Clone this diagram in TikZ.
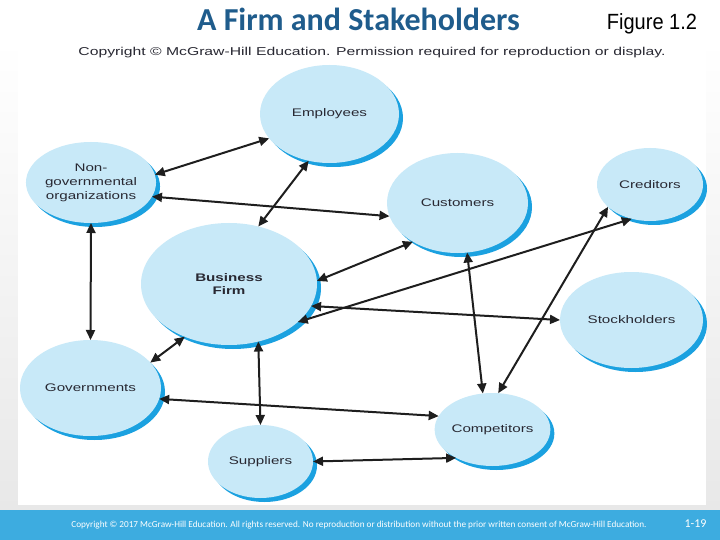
\documentclass[tikz,border=0pt]{standalone}
\usepackage{fontspec}
\setmainfont{Liberation Sans}
\newfontfamily\titlefont{Carlito}
\newfontfamily\figlabel[FakeStretch=0.91]{Liberation Sans}
\newfontfamily\plate[FakeStretch=1.38]{Liberation Sans}
\usepackage{xcolor}
\usepackage{tikz}
\usetikzlibrary{arrows.meta, shapes.geometric, shadows}

\definecolor{titleblue}{RGB}{31,92,140}
\definecolor{bubble}{RGB}{200,233,248}
\definecolor{rim}{RGB}{27,161,224}
\definecolor{ink}{RGB}{40,40,50}
\definecolor{barblue}{RGB}{61,172,224}
\definecolor{arrowink}{RGB}{30,30,30}

\begin{document}
\begin{tikzpicture}[
  x=1pt, y=-1pt,
  party/.style={ellipse, fill=bubble, draw=none, inner sep=0pt, outer sep=0pt, align=center,
    drop shadow={shadow xshift=4pt, shadow yshift=-4pt, fill=rim, opacity=1},
    font=\plate\fontsize{11}{14}\selectfont, text=ink},
  arr/.style={{Triangle[length=10pt,width=9pt]}-{Triangle[length=10pt,width=9pt]}, line width=2pt, draw=arrowink},
  footnote/.style={font=\titlefont\fontsize{9.2}{11}\selectfont, text=white, anchor=base}
]
  \useasboundingbox (0,0) rectangle (720,540);

  % slide frame
  \shade[top color=white, bottom color=gray!18] (0,40) rectangle (720,510);
  \fill[white] (18,40) rectangle (706,505);
  \fill[barblue] (0,510) rectangle (720,540);

  % heading
  \node[anchor=base, font=\titlefont\bfseries\fontsize{32}{36}\selectfont, text=titleblue] (title) at (358.5,31) {A Firm and Stakeholders};
  \node[anchor=base, font=\figlabel\fontsize{22}{26}\selectfont] (fig) at (652,30) {Figure 1.2};
  \node[anchor=base, font=\plate\fontsize{11.4}{13}\selectfont, text=ink] (credit) at (372,56) {Copyright \textcopyright{} McGraw-Hill Education. Permission required for reproduction or display.};

  % stakeholders
  \node[party, minimum width=139pt, minimum height=98pt] (emp) at (329.5,114) {Employees};
  \node[party, minimum width=116pt, minimum height=81pt] (ngo) at (91,182.5) {Non-\\governmental\\organizations};
  \node[party, minimum width=141pt, minimum height=100pt] (cust) at (457.5,203) {Customers};
  \node[party, minimum width=106pt, minimum height=73pt] (cred) at (650,184.5) {Creditors};
  \node[party, minimum width=176pt, minimum height=122pt, font=\plate\bfseries\fontsize{11}{13}\selectfont] (firm) at (229,284) {Business\\Firm};
  \node[party, minimum width=143pt, minimum height=96pt] (stock) at (631.5,320) {Stockholders};
  \node[party, minimum width=141pt, minimum height=96pt] (gov) at (90.5,388) {Governments};
  \node[party, minimum width=105pt, minimum height=73pt] (comp) at (492.5,429.5) {Competitors};
  \node[party, minimum width=105pt, minimum height=73pt] (supp) at (260.5,461.5) {Suppliers};

  % relations
  \draw[arr] (ngo.7) -- (emp.202);
  \draw[arr] (emp.246) -- (firm.63);
  \draw[arr] (ngo.347) -- (cust.191);
  \draw[arr] (ngo.south) -- (gov.north);
  \draw[arr] (firm.230) -- (gov.23);
  \draw[arr] (firm.297) -- (supp.north);
  \draw[arr] (gov.351) -- (comp.166);
  \draw[arr] (supp.east) -- (comp.218);
  \draw[arr] (firm.2) -- (cust.221);
  \draw[arr] (cust.281) -- (comp.105);
  \draw[arr] (firm.331) -- (cred.242);
  \draw[arr] (firm.345) -- (stock.west);
  \draw[arr] (cred.208) -- (comp.81);

  % footer
  \node[footnote] (legal) at (359,527) {Copyright \textcopyright{} 2017 McGraw-Hill Education. All rights reserved. No reproduction or distribution without the prior written consent of McGraw-Hill Education.};
  \node[footnote, font=\titlefont\fontsize{12}{14}\selectfont] (page) at (695.5,527) {1-19};
\end{tikzpicture}
\end{document}
